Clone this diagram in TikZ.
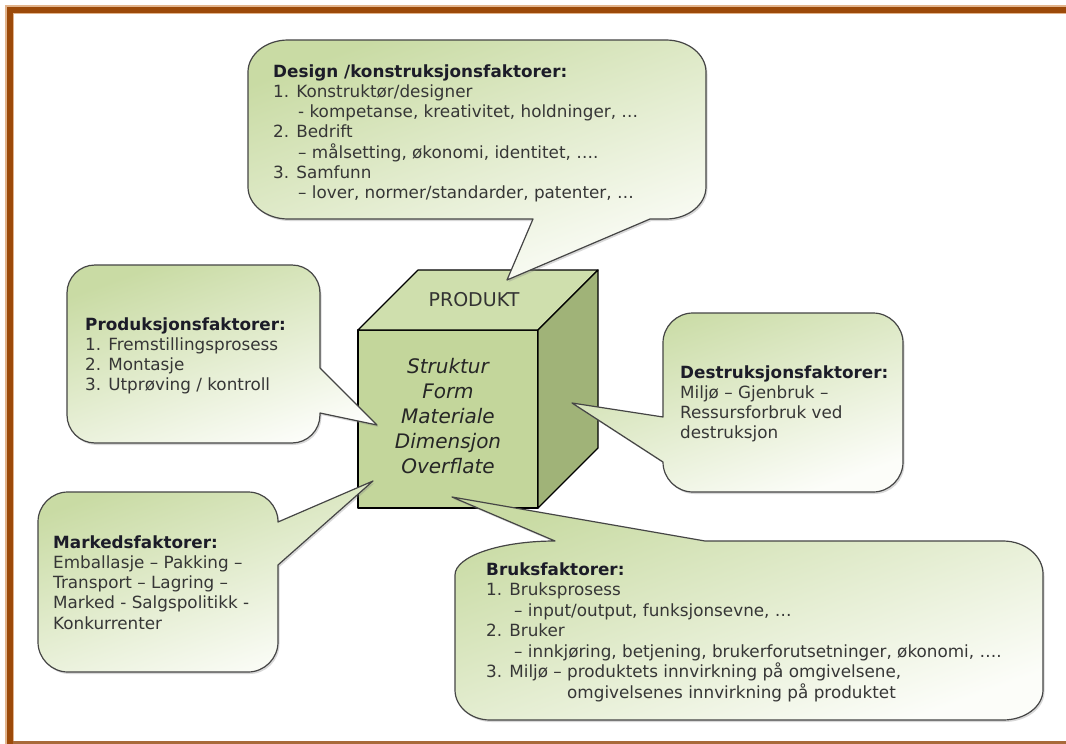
\documentclass[tikz,border=0pt]{standalone}
\usepackage{fontspec}
\setmainfont{DejaVu Sans}
\usetikzlibrary{shadows}
\definecolor{brownbar}{HTML}{9C4A0A}
\definecolor{brownlight}{HTML}{E2B48C}
\definecolor{brownbottom}{HTML}{A86A3A}
\definecolor{bubA}{HTML}{C9DBA4}
\definecolor{bubB}{HTML}{FCFDF9}
\definecolor{bubline}{HTML}{454545}
\definecolor{cubeFront}{HTML}{C3D69B}
\definecolor{cubeTop}{HTML}{CFDFAD}
\definecolor{cubeSide}{HTML}{A0B378}
\definecolor{headc}{HTML}{1C1C28}
\definecolor{bodyc}{HTML}{363636}
\begin{document}
\begin{tikzpicture}[x=1pt,y=-1pt,
  bubble/.style={draw=bubline, line width=1.2pt, line join=round,
    top color=bubA, bottom color=bubB, shading angle=20,
    drop shadow={shadow xshift=1.5pt, shadow yshift=-2pt, opacity=0.3}},
  cubeface/.style={draw=black, line width=1.2pt, line join=round},
  txt/.style={anchor=north west, inner sep=0pt, align=left, text=bodyc,
    font=\fontsize{16.8}{20.2}\selectfont},
  cubetxt/.style={anchor=north, inner sep=0pt, align=center, text=black!85,
    font=\fontsize{20}{25}\selectfont\itshape}
]
\useasboundingbox (0,0) rectangle (1066,744);
% frame
\fill[white] (0,0) rectangle (1066,744);
\fill[brownlight] (5,5) rectangle (1066,14);
\fill[brownlight] (5,5) rectangle (14,744);
\fill[brownbar] (6.7,6.7) rectangle (1066,12.5);
\fill[brownbar] (6.7,6.7) rectangle (12.5,744);
\draw[brownbottom, line width=2.5pt] (12.5,742.5) -- (1066,742.5);

% cube
\filldraw[cubeface, fill=cubeFront] (358,330) rectangle (538,508);
\filldraw[cubeface, fill=cubeTop] (358,330) -- (418,270) -- (598,270) -- (538,330) -- cycle;
\filldraw[cubeface, fill=cubeSide] (538,330) -- (598,270) -- (598,448) -- (538,508) -- cycle;
\node[anchor=base, inner sep=0pt, text=black!80, font=\fontsize{19}{22}\selectfont] (produkt) at (474,306.7) {PRODUKT};
\node[cubetxt] (props) at (448,355) {\rule{0pt}{18pt}Struktur\\Form\\Materiale\\Dimensjon\\Overflate};

% design bubble
\path[bubble] (288,40) -- (666,40) .. controls (688,40) and (706,54.4) .. (706,72)
  -- (706,187) .. controls (706,204.6) and (688,219) .. (666,219)
  -- (650,219) -- (507,280) -- (533,219)
  -- (288,219) .. controls (266,219) and (248,204.6) .. (248,187)
  -- (248,72) .. controls (248,54.4) and (266,40) .. (288,40) -- cycle;
% produksjon bubble
\path[bubble] (95,265) -- (292,265) .. controls (307.4,265) and (320,277.6) .. (320,293)
  -- (320,368) -- (377,425) -- (320,413)
  -- (320,415) .. controls (320,430.4) and (307.4,443) .. (292,443)
  -- (95,443) .. controls (79.6,443) and (67,430.4) .. (67,415)
  -- (67,293) .. controls (67,277.6) and (79.6,265) .. (95,265) -- cycle;
% destruksjon bubble
\path[bubble] (693,313) -- (873,313) .. controls (889.5,313) and (903,326.5) .. (903,343)
  -- (903,462) .. controls (903,478.5) and (889.5,492) .. (873,492)
  -- (693,492) .. controls (676.5,492) and (663,478.5) .. (663,462)
  -- (572,403) -- (663,417)
  -- (663,343) .. controls (663,326.5) and (676.5,313) .. (693,313) -- cycle;
% marked bubble
\path[bubble] (68,492) -- (248,492) .. controls (264.5,492) and (278,505.5) .. (278,522)
  -- (373,481) -- (278,565)
  -- (278,642) .. controls (278,658.5) and (264.5,672) .. (248,672)
  -- (68,672) .. controls (51.5,672) and (38,658.5) .. (38,642)
  -- (38,522) .. controls (38,505.5) and (51.5,492) .. (68,492) -- cycle;
% bruks bubble
\path[bubble] (555,541) -- (452,497) -- (705,541)
  -- (1003,541) .. controls (1025,541) and (1043,555.9) .. (1043,574)
  -- (1043,690) .. controls (1043,706.5) and (1025,720) .. (1003,720)
  -- (490,720) .. controls (470.75,720) and (455,706.5) .. (455,690)
  -- (455,575) .. controls (455,556.3) and (500,541) .. (555,541) -- cycle;

% texts
\node[txt] (tdesign) at (273,62) {\rule{0pt}{15pt}\textcolor{headc}{\textbf{Design /konstruksjonsfaktorer:}}\\
1. Konstruktør/designer\\
\hspace*{25pt}- kompetanse, kreativitet, holdninger, …\\
2. Bedrift\\
\hspace*{25pt}– målsetting, økonomi, identitet, ….\\
3. Samfunn\\
\hspace*{25pt}– lover, normer/standarder, patenter, …};

\node[txt] (tprod) at (85,315) {\rule{0pt}{15pt}\textcolor{headc}{\textbf{Produksjonsfaktorer:}}\\
1. Fremstillingsprosess\\
2. Montasje\\
3. Utprøving / kontroll};

\node[txt] (tdest) at (680,363) {\rule{0pt}{15pt}\textcolor{headc}{\textbf{Destruksjonsfaktorer:}}\\
Miljø – Gjenbruk –\\
Ressursforbruk ved\\
destruksjon};

\node[txt] (tmark) at (53,533) {\rule{0pt}{15pt}\textcolor{headc}{\textbf{Markedsfaktorer:}}\\
Emballasje – Pakking –\\
Transport – Lagring –\\
Marked - Salgspolitikk -\\
Konkurrenter};

\node[txt, font=\fontsize{16.8}{20.5}\selectfont] (tbruk) at (486,560) {\rule{0pt}{15pt}\textcolor{headc}{\textbf{Bruksfaktorer:}}\\
1. Bruksprosess\\
\hspace*{28pt}– input/output, funksjonsevne, …\\
2. Bruker\\
\hspace*{28pt}– innkjøring, betjening, brukerforutsetninger, økonomi, ….\\
3. Miljø – produktets innvirkning på omgivelsene,\\
\phantom{3. Miljø – }omgivelsenes innvirkning på produktet};
\end{tikzpicture}
\end{document}
